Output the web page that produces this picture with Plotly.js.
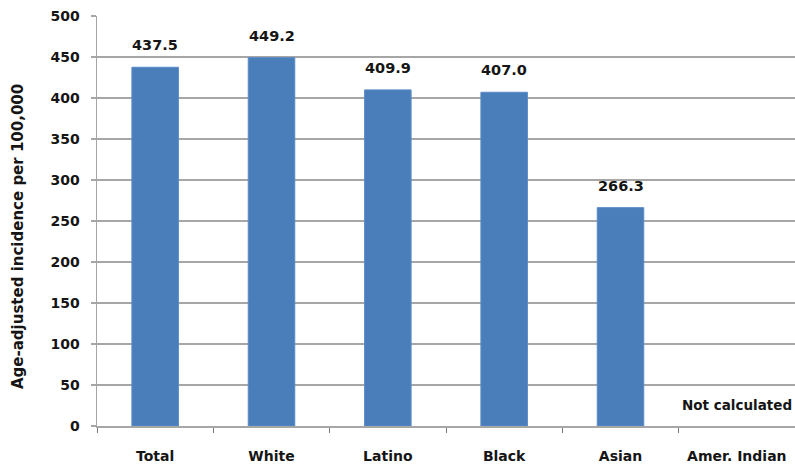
<!DOCTYPE html>
<html>
<head>
<meta charset="utf-8">
<script src="https://cdn.plot.ly/plotly-3.0.1.min.js"></script>
<style>
  html, body { margin: 0; padding: 0; background: #fff; }
  #chart { width: 795px; height: 469px; }
</style>
</head>
<body>
<div id="chart"></div>
<script>
// Age-adjusted incidence per 100,000 by group
const groups = ['Total', 'White', 'Latino', 'Black', 'Asian', 'Amer. Indian'];
const incidence = [437.5, 449.2, 409.9, 407.0, 266.3, null];
const yTicks = [0, 50, 100, 150, 200, 250, 300, 350, 400, 450, 500];
const missingNote = 'Not calculated';
const yTitle = 'Age-adjusted incidence per 100,000';

const FONT = 'DejaVu Sans, Verdana, sans-serif';
const TEXT_COLOR = '#151515';
const BAR_COLOR = '#4A7EBB';
const AXIS_GRAY = '#A6A6A6';

const trace = {
  type: 'bar',
  x: groups,
  y: incidence,
  marker: { color: BAR_COLOR, line: { color: '#5B8BC6', width: 1 } },
  width: 0.4,
  hoverinfo: 'x+y'
};

// value labels above each bar, and a note where no value exists
const annotations = groups.map((g, i) => {
  const v = incidence[i];
  const missing = v === null;
  return {
    x: g, y: missing ? 0 : v, xref: 'x', yref: 'y',
    text: '<b>' + (missing ? missingNote : v.toFixed(1)) + '</b>',
    showarrow: false, yanchor: 'bottom', yshift: missing ? 11 : 12,
    font: { family: FONT, size: missing ? 13.5 : 14.5, color: TEXT_COLOR }
  };
});

// rotated y-axis caption, sitting a little below the plot's middle
annotations.push({
  xref: 'paper', yref: 'paper', x: 0, y: 0.5,
  xanchor: 'center', yanchor: 'middle',
  xshift: -79, yshift: -16,
  textangle: -90,
  text: '<b>' + yTitle + '</b>',
  showarrow: false,
  font: { family: FONT, size: 15, color: TEXT_COLOR }
});

const layout = {
  width: 795,
  height: 469,
  margin: { l: 97, r: 0, t: 16, b: 43 },
  paper_bgcolor: '#ffffff',
  plot_bgcolor: '#ffffff',
  showlegend: false,
  font: { family: FONT, size: 14, color: TEXT_COLOR },
  xaxis: {
    type: 'category',
    categoryorder: 'array',
    categoryarray: groups,
    range: [-0.5, groups.length - 0.5],
    showline: true,
    linecolor: AXIS_GRAY,
    linewidth: 1.5,
    ticks: 'outside',
    tickson: 'boundaries',
    ticklen: 5,
    tickcolor: '#777',
    tickwidth: 1,
    ticklabelstandoff: 17,
    tickfont: { family: FONT, size: 14, color: TEXT_COLOR, weight: 'bold' },
    showgrid: false,
    zeroline: false,
    fixedrange: true
  },
  yaxis: {
    range: [0, 500],
    tickvals: yTicks,
    ticktext: yTicks.map(String),
    showline: true,
    linecolor: AXIS_GRAY,
    linewidth: 1.5,
    ticks: 'outside',
    ticklen: 5,
    tickcolor: AXIS_GRAY,
    tickwidth: 1.5,
    ticklabelstandoff: 8,
    tickfont: { family: FONT, size: 14, color: TEXT_COLOR, weight: 'bold' },
    showgrid: true,
    gridcolor: AXIS_GRAY,
    gridwidth: 1.5,
    zeroline: false,
    fixedrange: true
  },
  annotations: annotations
};

Plotly.newPlot('chart', [trace], layout, { displayModeBar: false, staticPlot: true });
</script>
</body>
</html>
